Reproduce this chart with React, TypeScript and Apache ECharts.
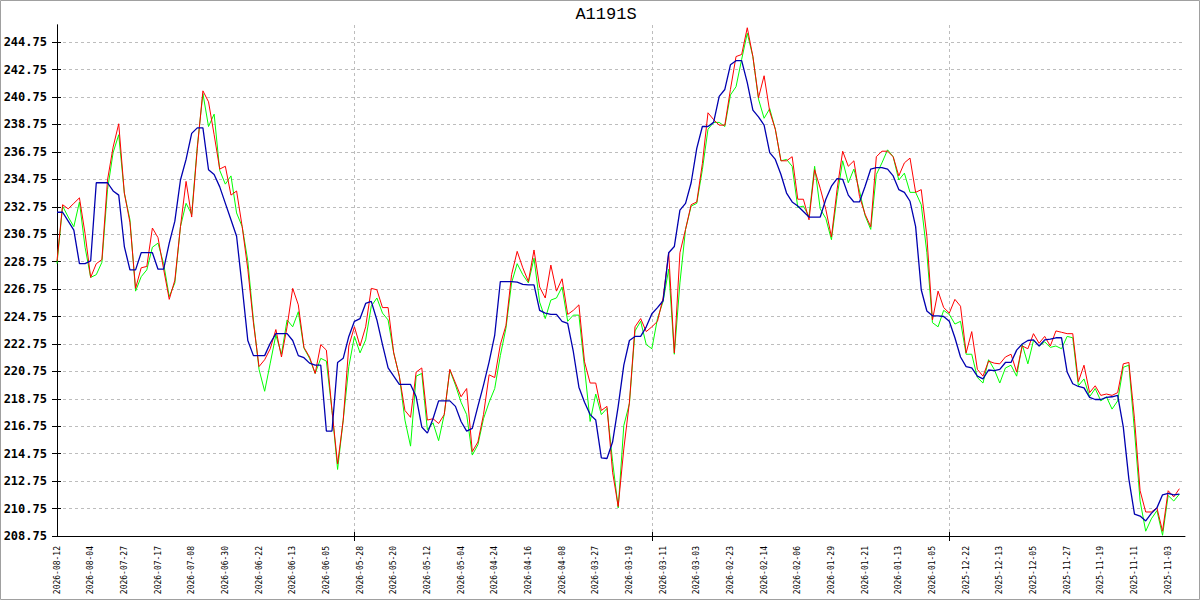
import React, { useEffect, useRef } from "react";
import * as echarts from "echarts";

const titleText = "A1191S";

const dateLabels = [
  "2026-08-12", "2026-08-04", "2026-07-27", "2026-07-17", "2026-07-08", "2026-06-30",
  "2026-06-22", "2026-06-13", "2026-06-05", "2026-05-28", "2026-05-20", "2026-05-12",
  "2026-05-04", "2026-04-24", "2026-04-16", "2026-04-08", "2026-03-27", "2026-03-19",
  "2026-03-11", "2026-03-03", "2026-02-23", "2026-02-14", "2026-02-06", "2026-01-29",
  "2026-01-21", "2026-01-13", "2026-01-05", "2025-12-22", "2025-12-13", "2025-12-05",
  "2025-11-27", "2025-11-19", "2025-11-11", "2025-11-03",
];

const yTicks = [
  208.75, 210.75, 212.75, 214.75, 216.75, 218.75, 220.75, 222.75, 224.75, 226.75,
  228.75, 230.75, 232.75, 234.75, 236.75, 238.75, 240.75, 242.75, 244.75,
];

const gridTicks = [53, 106, 159];

const redValues = [
  228.8, 232.9, 232.6, 233.0, 233.4, 230.8, 227.6, 228.6, 228.9, 234.7,
  237.1, 238.8, 233.75, 231.6, 226.8, 228.3, 228.4, 231.2, 230.5, 228.2,
  226.0, 227.4, 231.3, 234.6, 232.0, 237.0, 241.2, 240.4, 238.0, 235.5,
  235.7, 233.6, 233.9, 231.3, 228.2, 224.3, 221.1, 221.6, 222.4, 223.8,
  221.8, 224.0, 226.8, 225.6, 222.5, 221.8, 220.6, 222.7, 222.3, 217.9,
  214.0, 217.2, 222.6, 224.0, 222.6, 224.0, 226.8, 226.7, 225.4, 225.4,
  222.1, 220.4, 217.9, 217.4, 220.7, 221.0, 217.2, 217.3, 216.95, 217.6,
  220.9, 219.9, 218.9, 219.5, 214.9, 215.6, 217.6, 220.5, 220.3, 222.7,
  224.1, 227.8, 229.5, 228.3, 227.3, 229.6, 226.9, 226.1, 228.5, 226.6,
  227.5, 224.9, 225.2, 225.6, 221.45, 219.9, 219.9, 217.9, 218.2, 213.4,
  210.9, 215.1, 218.5, 224.0, 224.6, 223.65, 224.0, 224.4, 226.1, 229.4,
  222.1, 229.4, 231.1, 232.9, 233.1, 235.9, 239.6, 239.1, 238.7, 238.7,
  241.3, 243.7, 243.85, 245.8, 243.7, 240.7, 242.3, 239.7, 238.4, 236.1,
  236.1, 236.4, 233.3, 233.3, 231.8, 235.45, 234.1, 232.55, 230.55, 234.0,
  236.8, 235.7, 236.1, 233.5, 232.2, 231.3, 236.4, 236.8, 236.8, 236.4,
  235.0, 235.95, 236.3, 233.8, 234.0, 230.6, 224.5, 226.6, 225.4, 225.0,
  226.0, 225.5, 222.1, 223.65, 220.9, 220.4, 221.5, 221.35, 221.3, 221.8,
  222.0, 220.7, 222.6, 222.4, 223.5, 222.8, 223.3, 222.6, 223.7, 223.6,
  223.5, 223.5, 220.0, 221.2, 219.2, 219.7, 219.0, 219.1, 219.0, 219.2,
  221.3, 221.4, 217.3, 212.05, 210.5, 210.5, 210.8, 209.1, 212.05, 211.6,
  212.2,
];

const greenValues = [
  228.6, 232.8, 232.0, 231.3, 233.1, 229.8, 227.6, 227.8, 228.7, 234.0,
  236.7, 238.0, 233.75, 231.8, 226.6, 227.65, 228.15, 229.8, 230.1, 228.6,
  226.2, 227.2, 231.3, 233.0, 232.2, 237.15, 241.0, 238.6, 239.5, 235.4,
  234.4, 235.0, 232.3, 231.3, 228.8, 224.5, 220.9, 219.3, 221.35, 223.4,
  222.0, 224.5, 224.0, 225.1, 222.45, 221.7, 220.6, 221.7, 221.5, 217.9,
  213.6, 217.2, 221.1, 223.3, 222.1, 223.05, 225.5, 226.1, 225.0, 224.5,
  222.1, 220.4, 217.2, 215.3, 220.4, 220.6, 216.5, 217.0, 215.7, 217.6,
  220.85, 219.75, 218.5, 217.6, 214.65, 215.4, 217.3, 218.5, 219.5, 221.9,
  223.9, 227.2, 228.6, 227.8, 227.2, 229.0, 225.8, 224.6, 225.95, 226.1,
  226.9, 224.4, 224.85, 224.85, 221.0, 217.1, 219.1, 217.6, 218.05, 214.2,
  210.8, 216.8, 218.4, 223.7, 224.4, 222.7, 222.4, 224.6, 225.85, 228.2,
  222.0, 227.2, 231.1, 232.8, 233.0, 235.45, 238.4, 238.9, 238.9, 238.6,
  240.9, 241.5, 243.5, 245.4, 243.7, 240.6, 239.2, 239.9, 238.4, 236.1,
  236.2, 235.7, 232.7, 232.8, 232.05, 235.7, 232.6, 231.9, 230.35, 233.5,
  236.1, 234.5, 235.5, 233.9, 232.1, 231.1, 235.1, 235.95, 236.9, 236.4,
  234.7, 235.2, 233.8, 233.8, 232.9, 229.4, 224.3, 224.0, 225.2, 224.9,
  224.2, 224.4, 222.0, 222.0, 220.3, 219.9, 221.6, 220.9, 219.9, 221.0,
  221.2, 220.4, 222.7, 221.3, 223.0, 222.6, 222.9, 222.5, 222.6, 222.4,
  223.3, 223.2, 219.7, 220.2, 218.9, 219.5, 218.6, 218.9, 218.0, 218.6,
  221.05, 221.2, 216.4, 211.3, 209.1, 210.0, 210.6, 208.8, 211.7, 211.3,
  211.8,
];

const blueValues = [
  232.35, 232.35, 231.7, 231.05, 228.6, 228.6, 228.8, 234.5, 234.5, 234.5,
  233.9, 233.6, 229.85, 228.15, 228.15, 229.4, 229.4, 229.4, 228.2, 228.2,
  230.1, 231.7, 234.7, 236.2, 238.1, 238.5, 238.5, 235.45, 235.1, 234.2,
  233.0, 231.8, 230.6, 226.9, 223.0, 221.9, 221.9, 221.9, 222.8, 223.5,
  223.5, 223.5, 223.0, 221.9, 221.75, 221.35, 221.2, 221.2, 216.4, 216.4,
  221.4, 221.7, 223.3, 224.4, 224.6, 225.7, 225.85, 224.5, 222.7, 221.0,
  220.4, 219.8, 219.8, 219.8, 218.9, 216.7, 216.25, 217.3, 218.6, 218.6,
  218.6, 218.2, 217.1, 216.4, 216.6, 218.2, 219.75, 221.45, 223.4, 227.3,
  227.3, 227.3, 227.25, 227.1, 227.05, 227.05, 225.2, 225.0, 224.9, 224.9,
  224.4, 224.25, 222.2, 219.6, 218.5, 217.6, 217.2, 214.45, 214.4, 215.6,
  218.2, 221.2, 223.0, 223.3, 223.3, 224.0, 224.95, 225.4, 225.9, 229.4,
  229.85, 232.5, 233.0, 234.5, 237.0, 238.6, 238.6, 238.9, 240.8, 241.3,
  243.1, 243.4, 243.4, 241.8, 239.8, 239.3, 238.7, 236.7, 236.2, 235.1,
  233.75, 233.1, 232.8, 232.4, 232.0, 232.0, 232.0, 233.3, 234.25, 234.8,
  234.75, 233.6, 233.1, 233.1, 234.25, 235.5, 235.6, 235.6, 235.5, 235.0,
  234.0, 233.8, 233.15, 231.3, 226.7, 225.15, 224.8, 224.8, 224.75, 224.4,
  223.2, 221.8, 221.1, 221.0, 220.4, 220.2, 220.85, 220.8, 220.9, 221.4,
  221.4, 222.3, 222.75, 223.0, 223.05, 222.6, 223.05, 223.1, 223.2, 223.2,
  220.7, 219.85, 219.65, 219.55, 218.85, 218.7, 218.7, 218.85, 218.9, 219.0,
  216.7, 212.9, 210.35, 210.2, 209.85, 210.4, 210.8, 211.75, 211.85, 211.75,
  211.8,
];

const X_MAX = 201;
const Y_MIN = 208.75;
const Y_MAX = 246;

export default function App() {
  const ref = useRef<HTMLDivElement>(null);

  useEffect(() => {
    if (!ref.current) return;
    const chart = echarts.init(ref.current, undefined, { renderer: "svg" });
    const toPairs = (arr: number[]) => arr.map((v, i) => [i, v]);
    const dash = { color: "#bdbdbd", type: [3, 3] as any, width: 1 };

    chart.setOption({
      animation: false,
      backgroundColor: "#ffffff",
      graphic: [
        {
          type: "rect",
          shape: { x: 0.5, y: 0.5, width: 1199, height: 599 },
          style: { fill: "none", stroke: "#a0a0a0", lineWidth: 1 },
          silent: true,
        },
        {
          type: "text",
          x: 606,
          y: 6,
          style: {
            text: titleText,
            fill: "#000",
            font: "normal 17px 'Liberation Mono'",
            textAlign: "center",
            textVerticalAlign: "top",
          },
        },
      ],
      grid: { left: 57, right: 15, top: 25, bottom: 64, containLabel: false },
      xAxis: [
        {
          type: "value",
          min: 0,
          max: X_MAX,
          interval: 6,
          position: "bottom",
          axisLine: { show: true, lineStyle: { color: "#000", width: 1 } },
          axisTick: { show: false },
          splitLine: { show: false },
          axisLabel: {
            rotate: 90,
            margin: 10,
            fontFamily: "DejaVu Sans Mono",
            fontSize: 8,
            color: "#000",
            formatter: (v: number) => {
              const k = Math.round(v / 6);
              return Math.abs(v - k * 6) < 0.01 && k < dateLabels.length ? dateLabels[k] : "";
            },
          },
        },
        {
          type: "value",
          min: 0,
          max: X_MAX,
          interval: 53,
          position: "bottom",
          axisLine: { show: false },
          axisLabel: { show: false },
          axisTick: { show: true, length: 5, customValues: gridTicks, lineStyle: { color: "#000" } },
          splitLine: { show: true, lineStyle: dash },
        },
        {
          type: "value",
          min: 0,
          max: X_MAX,
          interval: 53,
          position: "bottom",
          axisLine: { show: false },
          axisLabel: { show: false },
          axisTick: { show: true, inside: true, length: 4, customValues: gridTicks, lineStyle: { color: "#000" } },
          splitLine: { show: false },
        },
      ],
      yAxis: [
        {
          type: "value",
          min: Y_MIN,
          max: Y_MAX,
          interval: 2,
          position: "left",
          axisLine: { show: true, lineStyle: { color: "#000", width: 1 } },
          axisTick: { show: true, length: 5, customValues: yTicks, lineStyle: { color: "#000" } },
          splitLine: { show: true, lineStyle: dash },
          axisLabel: {
            margin: 10,
            customValues: yTicks,
            fontFamily: "DejaVu Sans Mono",
            fontWeight: "bold",
            fontSize: 12,
            color: "#000",
            formatter: (v: number) => (v > 245 ? "" : v.toFixed(2)),
          },
        },
        {
          type: "value",
          min: Y_MIN,
          max: Y_MAX,
          interval: 2,
          position: "left",
          axisLine: { show: false },
          axisLabel: { show: false },
          axisTick: { show: true, inside: true, length: 4, customValues: yTicks, lineStyle: { color: "#000" } },
          splitLine: { show: false },
        },
        {
          type: "value",
          min: Y_MIN,
          max: Y_MAX,
          position: "right",
          axisLine: { show: true, lineStyle: { color: "#000", width: 1 } },
          axisLabel: { show: false },
          axisTick: { show: false },
          splitLine: { show: false },
        },
      ],
      series: [
        {
          name: "green",
          type: "line",
          xAxisIndex: 0,
          yAxisIndex: 0,
          data: toPairs(greenValues),
          showSymbol: false,
          symbol: "none",
          lineStyle: { color: "#00ff00", width: 1 },
          z: 2,
        },
        {
          name: "red",
          type: "line",
          xAxisIndex: 0,
          yAxisIndex: 0,
          data: toPairs(redValues),
          showSymbol: false,
          symbol: "none",
          lineStyle: { color: "#ff0000", width: 1 },
          z: 3,
        },
        {
          name: "blue",
          type: "line",
          xAxisIndex: 0,
          yAxisIndex: 0,
          data: toPairs(blueValues),
          showSymbol: false,
          symbol: "none",
          lineStyle: { color: "#0000b0", width: 1.3 },
          z: 4,
        },
      ],
    });

    return () => {
      chart.dispose();
    };
  }, []);

  return (
    <div
      ref={ref}
      style={{ position: "fixed", left: 0, top: 0, width: 1200, height: 600, background: "#fff" }}
    />
  );
}
